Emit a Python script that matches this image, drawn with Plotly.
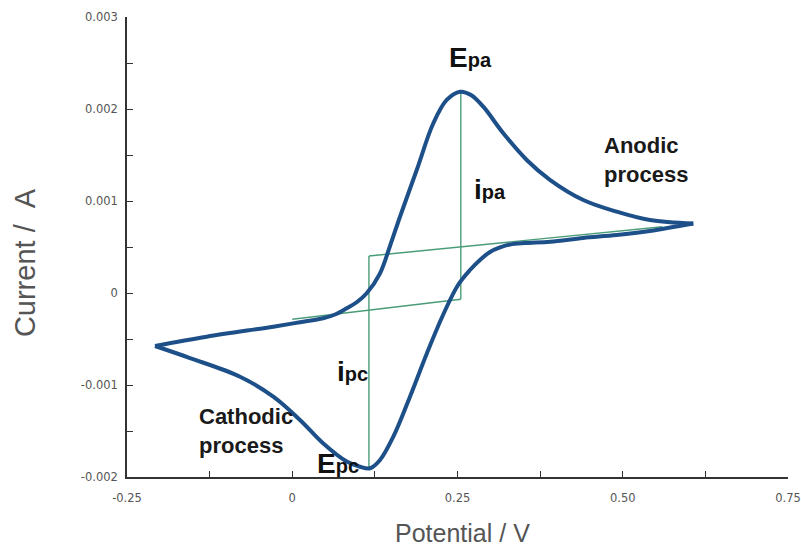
import numpy as np
import plotly.graph_objects as go

# ---- data (potential in V, current in mA; converted to A for plotting) ----
fwd_potential = [-0.2076, -0.1294, -0.0287, 0.0117, 0.0467, 0.0647, 0.0824, 0.0980,
                 0.1126, 0.1328, 0.1479, 0.1630, 0.1883, 0.2134, 0.2337, 0.2538,
                 0.2704, 0.2890, 0.3193, 0.3547, 0.3903, 0.4403, 0.4908, 0.5412, 0.6067]
fwd_current_mA = [-0.576, -0.475, -0.366, -0.318, -0.275, -0.234, -0.166, -0.098,
                  -0.003, 0.214, 0.511, 0.829, 1.337, 1.845, 2.098, 2.188,
                  2.152, 2.025, 1.736, 1.446, 1.228, 1.011, 0.884, 0.793, 0.755]

rev_potential = [0.6067, 0.541, 0.4908, 0.440, 0.3903, 0.3521, 0.3294, 0.3143, 0.2992,
                 0.2840, 0.2689, 0.2508, 0.2281, 0.2039, 0.1781, 0.1529, 0.1328,
                 0.1176, 0.1025, 0.0824, 0.0470, 0.0117, -0.0287, -0.0790, -0.1547,
                 -0.2076]
rev_current_mA = [0.755, 0.674, 0.630, 0.598, 0.558, 0.543, 0.527, 0.495, 0.446,
                  0.359, 0.250, 0.087, -0.239, -0.652, -1.127, -1.562, -1.815,
                  -1.905, -1.888, -1.832, -1.636, -1.380, -1.127, -0.910, -0.707,
                  -0.576]

# construction lines (baselines and peak currents)
ipa_base_x = [0.0, 0.255]
ipa_base_mA = [-0.286, -0.068]
ipa_vert_x = [0.255, 0.255]
ipa_vert_mA = [-0.068, 2.188]
ipc_base_x = [0.116, 0.56]
ipc_base_mA = [0.402, 0.72]
ipc_vert_x = [0.116, 0.116]
ipc_vert_mA = [0.402, -1.905]

x_tickvals = [-0.25, 0, 0.25, 0.5, 0.75]
x_ticktext = ["-0.25", "0", "0.25", "0.50", "0.75"]
x_minor = [-0.125, 0.125, 0.375, 0.625]
y_tickvals = [0.003, 0.002, 0.001, 0, -0.001, -0.002]
y_ticktext = ["0.003", "0.002", "0.001", "0", "-0.001", "-0.002"]
y_minor = [0.0025, 0.0015, 0.0005, -0.0005, -0.0015]

toA = lambda v: (np.array(v) / 1000.0).tolist()

CURVE = "#1d4f88"
GREEN = "#4a9c78"
AX = "#333333"
FONT = "Arial, Liberation Sans, sans-serif"

fig = go.Figure()
for xs, ys in [(ipa_base_x, ipa_base_mA), (ipa_vert_x, ipa_vert_mA),
               (ipc_base_x, ipc_base_mA), (ipc_vert_x, ipc_vert_mA)]:
    fig.add_trace(go.Scatter(x=xs, y=toA(ys), mode="lines",
                             line=dict(color=GREEN, width=1.4), hoverinfo="skip"))
fig.add_trace(go.Scatter(x=fwd_potential, y=toA(fwd_current_mA), mode="lines",
                         line=dict(color=CURVE, width=4, shape="spline", smoothing=1.0)))
fig.add_trace(go.Scatter(x=rev_potential, y=toA(rev_current_mA), mode="lines",
                         line=dict(color=CURVE, width=4, shape="spline", smoothing=1.0)))

axis_common = dict(showline=True, linecolor=AX, linewidth=1.5, showgrid=False,
                   zeroline=False, ticks="inside", ticklen=6, tickwidth=1.2,
                   tickcolor=AX, automargin=False,
                   tickfont=dict(family="DejaVu Sans, sans-serif", size=11.5, color="#555"))
fig.update_xaxes(range=[-0.25, 0.75], tickvals=x_tickvals, ticktext=x_ticktext,
                 minor=dict(tickvals=x_minor, ticks="inside", ticklen=6,
                            tickwidth=1.2, tickcolor=AX),
                 ticklabelstandoff=9, **axis_common)
fig.update_yaxes(range=[-0.002, 0.003], tickvals=y_tickvals, ticktext=y_ticktext,
                 minor=dict(tickvals=y_minor, ticks="inside", ticklen=6,
                            tickwidth=1.2, tickcolor=AX),
                 ticklabelstandoff=5, **axis_common)

def big_small(big, small):
    return f"<b>{big}<span style='font-size:20px'>{small}</span></b>"

labels = [
    (0.2336, 2.565, big_small("E", "pa")),
    (0.0344, -1.848, big_small("E", "pc")),
    (0.2719, 1.12, big_small("i", "pa")),
    (0.0647, -0.848, big_small("i", "pc")),
]
for x, y, t in labels:
    fig.add_annotation(x=x, y=y / 1000, xref="x", yref="y", text=t, showarrow=False,
                       xanchor="left", yanchor="middle",
                       font=dict(family=FONT, size=28, color="#111"))
for x, y, t in [(0.468, 1.446, "Anodic<br>process"), (-0.144, -1.50, "Cathodic<br>process")]:
    fig.add_annotation(x=x, y=y / 1000, xref="x", yref="y", text=f"<b>{t}</b>",
                       showarrow=False, xanchor="left", yanchor="middle", align="left",
                       font=dict(family=FONT, size=22, color="#1a1a1a"))

fig.add_annotation(x=-0.1543, y=0.465, xref="paper", yref="paper",
                   text="Current /\u00a0\u00a0A", textangle=-90, showarrow=False,
                   xanchor="center", yanchor="middle",
                   font=dict(family=FONT, size=29, color="#555"))
fig.add_annotation(x=0.508, y=-0.121, xref="paper", yref="paper",
                   text="Potential / V", showarrow=False,
                   xanchor="center", yanchor="middle",
                   font=dict(family=FONT, size=25, color="#555"))

fig.update_layout(width=801, height=547, margin=dict(l=127, r=13, t=17, b=70),
                  plot_bgcolor="white", paper_bgcolor="white", showlegend=False)

fig.write_html("out.html")
